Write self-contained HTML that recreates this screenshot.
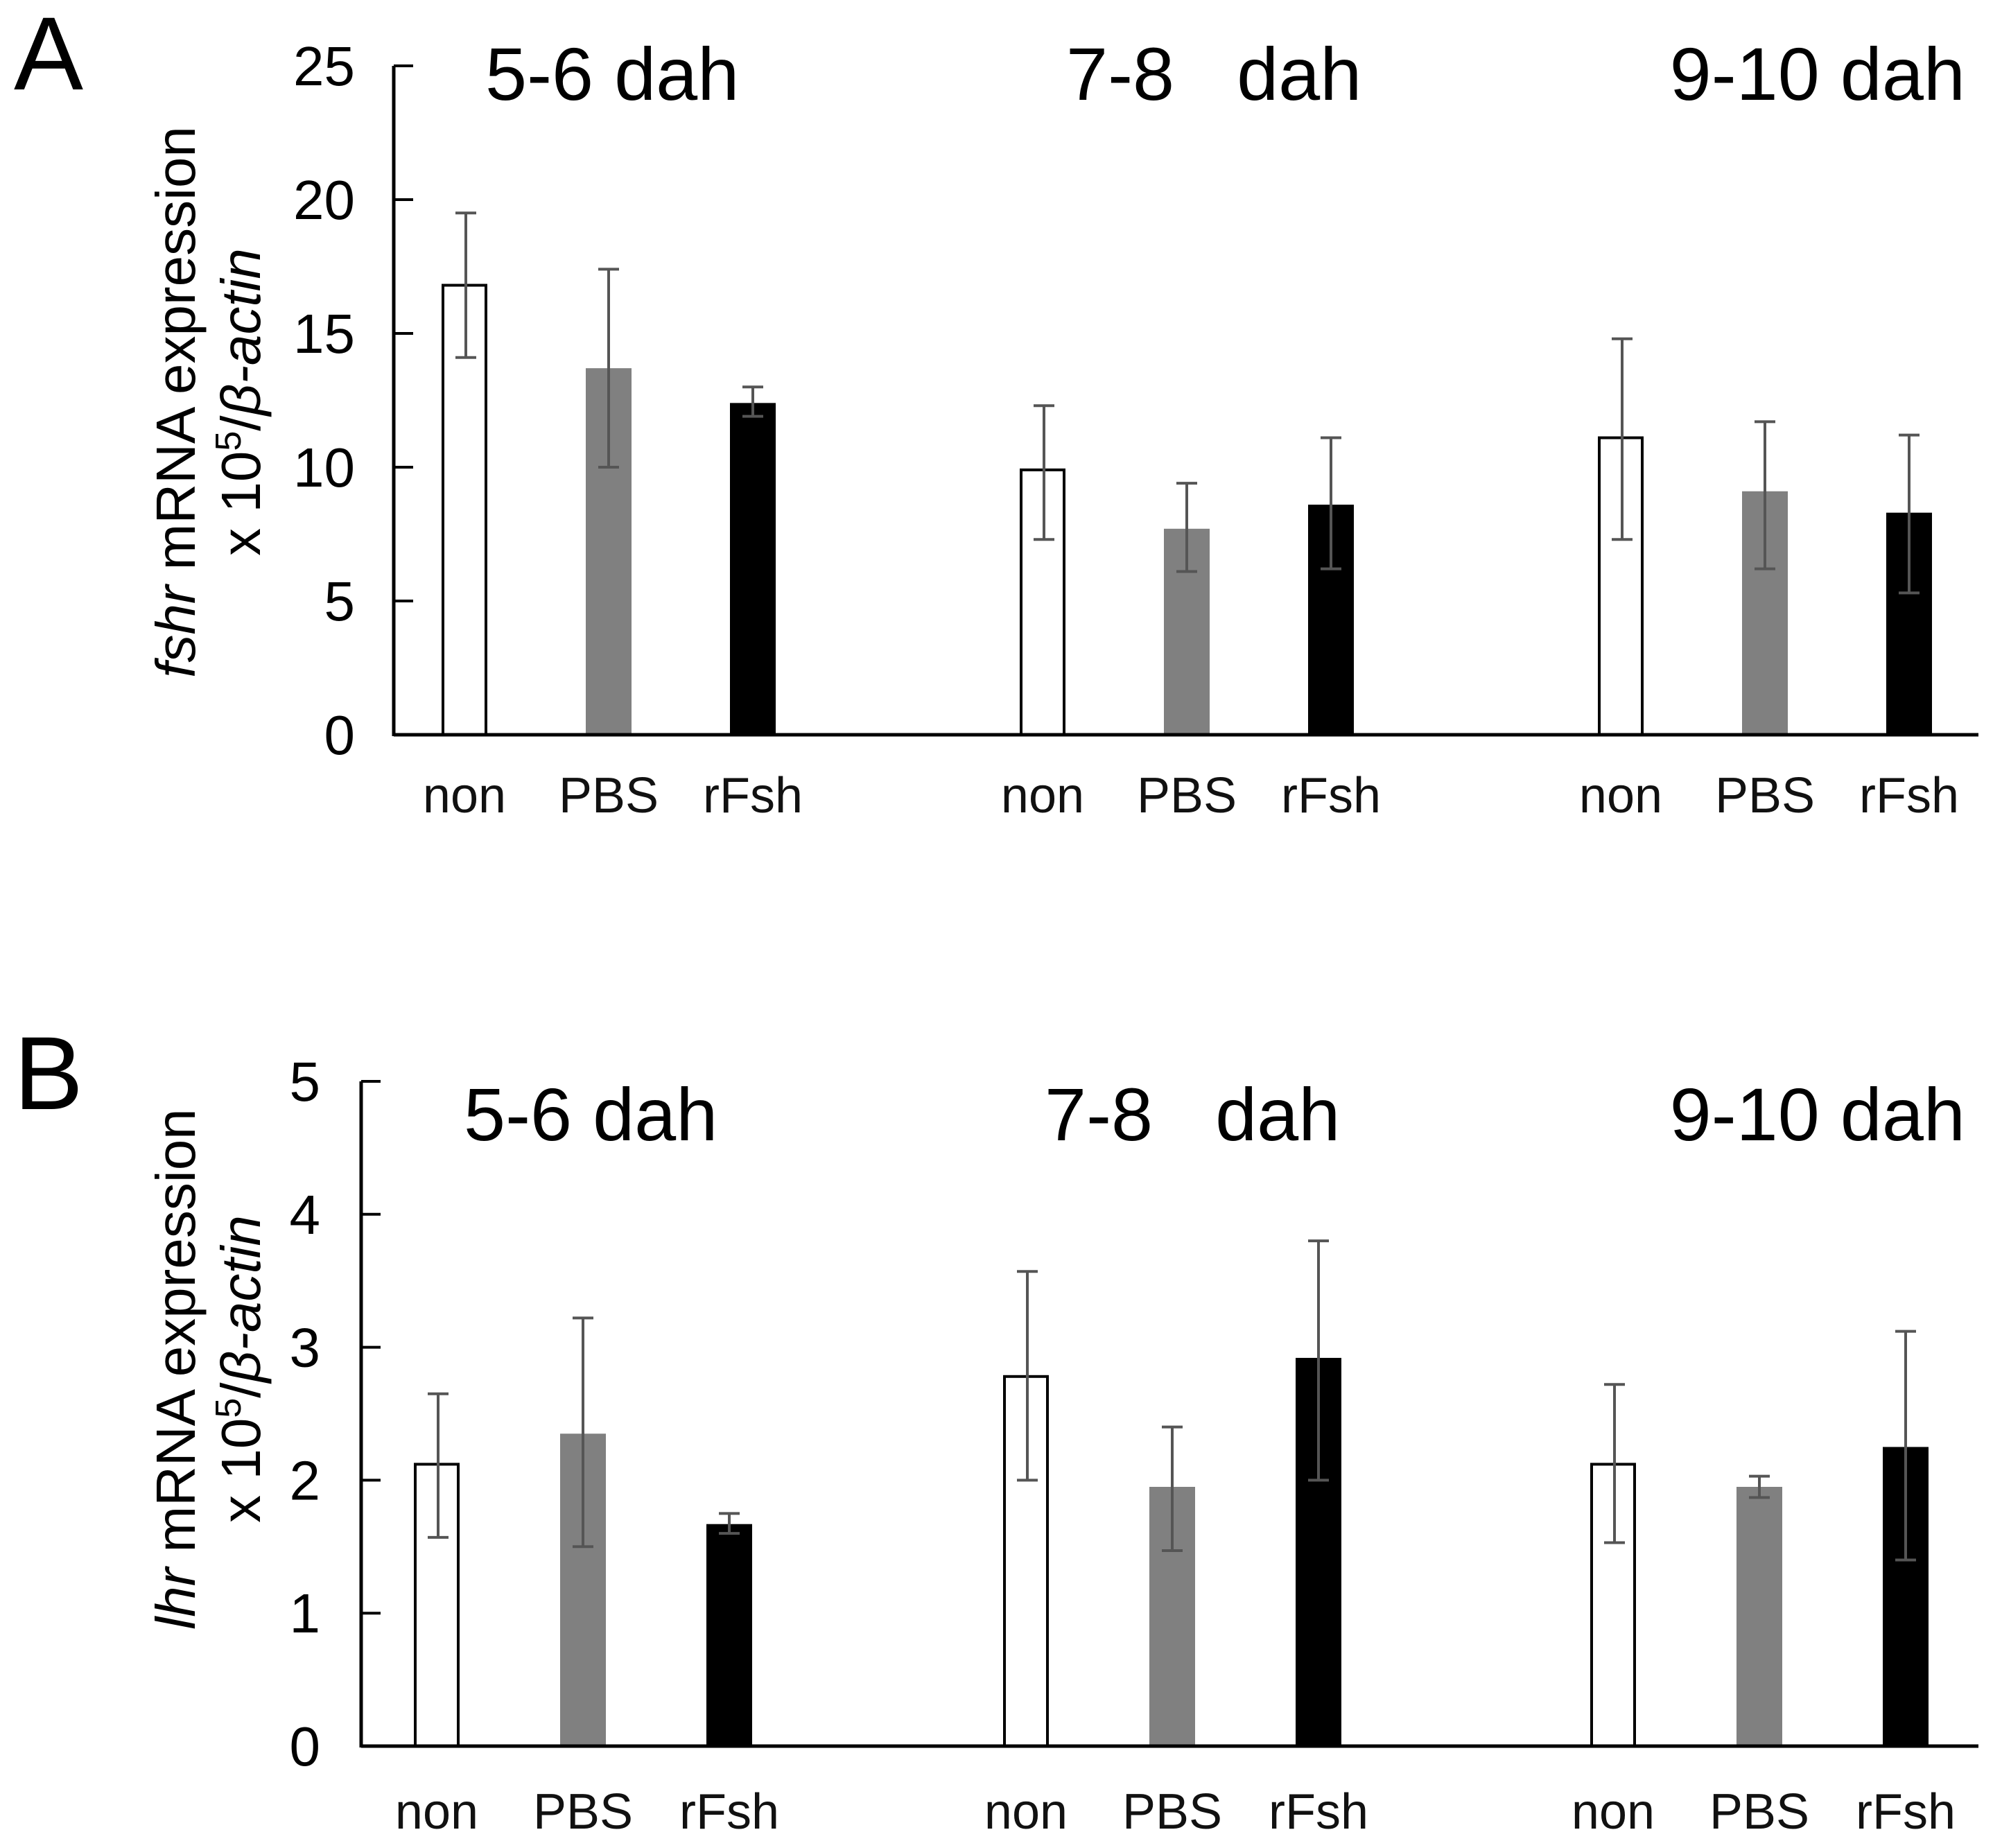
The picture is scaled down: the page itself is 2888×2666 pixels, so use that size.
<!DOCTYPE html>
<html><head><meta charset="utf-8"><style>
html,body{margin:0;padding:0;background:#fff}
svg{display:block;font-family:"Liberation Sans",Arial,sans-serif}
.pre{white-space:pre}
</style></head><body>
<svg id="chart" width="2888" height="2666" viewBox="0 0 2888 2666" xmlns="http://www.w3.org/2000/svg">
<text x="20" y="129" font-size="150">A</text>
<text x="20" y="1600" font-size="150">B</text>
<g id="pa"></g>
<g id="pb"></g>
</svg>
<script>
const groups = ["5-6 dah", "7-8   dah", "9-10 dah"];
const treatments = ["non", "PBS", "rFsh"];
const fshrMean = [16.8, 13.7, 12.4, 9.9, 7.7, 8.6, 11.1, 9.1, 8.3];
const fshrLow = [14.1, 10.0, 11.9, 7.3, 6.1, 6.2, 7.3, 6.2, 5.3];
const fshrHigh = [19.5, 17.4, 13.0, 12.3, 9.4, 11.1, 14.8, 11.7, 11.2];
const fshrTicks = [0, 5, 10, 15, 20, 25];
const lhrMean = [2.12, 2.35, 1.67, 2.78, 1.95, 2.92, 2.12, 1.95, 2.25];
const lhrLow = [1.57, 1.50, 1.60, 2.00, 1.47, 2.00, 1.53, 1.87, 1.40];
const lhrHigh = [2.65, 3.22, 1.75, 3.57, 2.40, 3.80, 2.72, 2.03, 3.12];
const lhrTicks = [0, 1, 2, 3, 4, 5];

const NS = "http://www.w3.org/2000/svg";
function mk(parent, tag, attrs, txt){
  const e = document.createElementNS(NS, tag);
  for (const k in attrs) e.setAttribute(k, attrs[k]);
  if (txt !== undefined) e.textContent = txt;
  parent.appendChild(e);
  return e;
}
const fills = ["#fff", "#808080", "#000"];

function panel(g, cfg){
  const yMax = cfg.ticks[cfg.ticks.length-1];
  const y = v => cfg.y0 - (v / yMax) * (cfg.y0 - cfg.yTop);
  const x = i => cfg.centers[Math.floor(i/3)] + (i%3 - 1) * cfg.step;
  cfg.mean.forEach((m, i) => {
    const t = i % 3;
    const r = mk(g, "rect", {x: x(i) - 33 + (t===0?2:0), y: y(m), width: t===0?62:66, height: cfg.y0 - y(m),
      fill: fills[t], stroke: t===0 ? "#000" : "none", "stroke-width": 4});
    
    
  });
  cfg.mean.forEach((m, i) => {
    const eg = mk(g, "g", {stroke: "#555", "stroke-width": 4});
    
    
    const cx = x(i) + (i%3===0?2:0);
    mk(eg, "line", {x1: cx, x2: cx, y1: y(cfg.low[i]), y2: y(cfg.high[i])});
    mk(eg, "line", {x1: cx-15, x2: cx+15, y1: y(cfg.low[i]), y2: y(cfg.low[i])});
    mk(eg, "line", {x1: cx-15, x2: cx+15, y1: y(cfg.high[i]), y2: y(cfg.high[i])});
  });
  const ya = mk(g, "line", {x1: cfg.ax, x2: cfg.ax, y1: cfg.yTop, y2: cfg.y0 + 2, stroke: "#000", "stroke-width": 5});
  
  
  const xa = mk(g, "line", {x1: cfg.ax, x2: 2854, y1: cfg.y0, y2: cfg.y0, stroke: "#000", "stroke-width": 5});
  
  
  cfg.ticks.forEach(t => {
    mk(g, "line", {x1: cfg.ax, x2: cfg.ax + 28, y1: y(t), y2: y(t), stroke: "#000", "stroke-width": 4});
    const tl = mk(g, "text", {x: cfg.tickRight, y: y(t) + 28, "font-size": 80, "text-anchor": "end"}, String(t));
    
    
  });
  cfg.mean.forEach((m, i) => {
    const cl = mk(g, "text", {x: x(i), y: cfg.catY, "font-size": 72, "text-anchor": "middle", fill: "#111"}, treatments[i%3]);
    
    
  });
  groups.forEach((gr, k) => {
    const tt = mk(g, "text", {x: cfg.titleX[k], y: cfg.titleY, "font-size": 108, "class": "pre", "text-anchor": k===2?"end":"start"}, gr);
    
    
  });
  const yt = mk(g, "text", {transform: `translate(${cfg.labX},${cfg.labY}) rotate(-90)`, "font-size": 80, "text-anchor": "middle"});
  
  
  mk(yt, "tspan", {"font-style": "italic"}, cfg.gene);
  mk(yt, "tspan", {}, " mRNA expression");
  const yt2 = mk(g, "text", {transform: `translate(${cfg.labX + 94},${cfg.labY}) rotate(-90)`, "font-size": 80, "text-anchor": "middle"});
  
  
  mk(yt2, "tspan", {}, "x 10");
  mk(yt2, "tspan", {"font-size": 52, dy: -28}, "5");
  mk(yt2, "tspan", {dy: 28}, "/");
  mk(yt2, "tspan", {"font-style": "italic"}, "β-actin");
}

panel(document.getElementById("pa"), {
  mean: fshrMean, low: fshrLow, high: fshrHigh, ticks: fshrTicks, gene: "fshr",
  ax: 568, y0: 1060, yTop: 95, centers: [878, 1712, 2546], step: 208, tickRight: 512,
  catY: 1172, titleX: [700, 1538, 2835], titleY: 144, labX: 281, labY: 580
});
panel(document.getElementById("pb"), {
  mean: lhrMean, low: lhrLow, high: lhrHigh, ticks: lhrTicks, gene: "lhr",
  ax: 521, y0: 2519, yTop: 1560, centers: [841, 1691, 2538], step: 211, tickRight: 462,
  catY: 2638, titleX: [669, 1507, 2835], titleY: 1645, labX: 281, labY: 1975
});
</script>
</body></html>
